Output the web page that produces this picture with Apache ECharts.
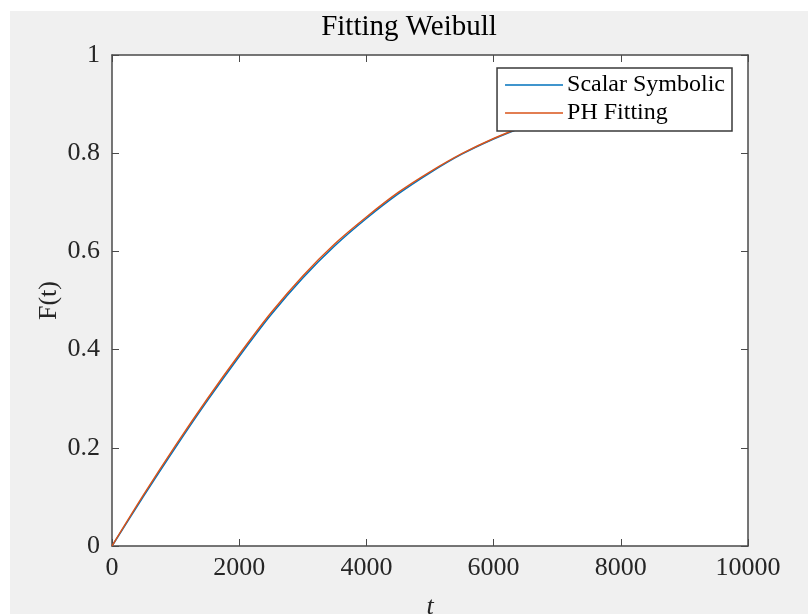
<!DOCTYPE html>
<html>
    <head>
        <meta charset="UTF-8" />
        <script src="https://cdn.jsdelivr.net/npm/echarts@6/dist/echarts.min.js"></script>
        <style>
            html, body { margin: 0; padding: 0; background: #ffffff; }
            #main { position: absolute; left: 10px; top: 11px; width: 798px; height: 603px; background: #f0f0f0; }
        </style>
    </head>

    <body>
        <div id="main"></div>
        <script type="text/javascript">
            // values
            var tValues = [0, 500, 1000, 1500, 2000, 2500, 3000, 3500, 4000, 4500, 5000, 5500, 6000, 6500, 7000];
            var scalarSymbolic = [0, 0.102, 0.201, 0.296, 0.386, 0.471, 0.546, 0.611, 0.667, 0.717, 0.760, 0.798, 0.829, 0.855, 0.878];
            var phFitting = [0, 0.105, 0.205, 0.300, 0.390, 0.475, 0.550, 0.615, 0.670, 0.720, 0.762, 0.799, 0.830, 0.856, 0.879];
            var xTicks = [0, 2000, 4000, 6000, 8000, 10000];
            var yTicks = [0, 0.2, 0.4, 0.6, 0.8, 1];

            var serif = '"Liberation Serif", "Times New Roman", serif';
            var axisColor = '#4a4a4a';

            function pairs(xs, ys) {
                return xs.map(function (x, i) { return [x, ys[i]]; });
            }

            var chartDom = document.getElementById("main");
            var myChart = echarts.init(chartDom);
            var option;

            var tickStyle = { show: true, inside: true, length: 7, lineStyle: { color: axisColor, width: 1 } };
            var lineStyle = { show: true, onZero: false, lineStyle: { color: axisColor, width: 1.5 } };

            option = {
                animation: false,
                title: {
                    text: 'Fitting Weibull',
                    left: 'center',
                    top: 0,
                    padding: [2, 0, 0, 102 - 60],
                    textStyle: { fontFamily: serif, fontSize: 29, fontWeight: 'normal', color: '#000' }
                },
                legend: {
                    orient: 'vertical',
                    right: 76,
                    top: 57,
                    icon: 'rect',
                    itemWidth: 58,
                    itemHeight: 1.5,
                    itemGap: 0,
                    padding: [3, 7, 4, 8],
                    backgroundColor: '#ffffff',
                    borderColor: '#3a3a3a',
                    borderWidth: 1.5,
                    borderRadius: 0,
                    z: 10,
                    textStyle: { fontFamily: serif, fontSize: 24, color: '#000', lineHeight: 28, padding: [0, 0, 0, -1] },
                    data: ['Scalar Symbolic', 'PH Fitting']
                },
                grid: {
                    left: 102, right: 60, top: 44, bottom: 68,
                    show: true, backgroundColor: '#ffffff', borderWidth: 0,
                    outerBoundsMode: 'none', containLabel: false
                },
                xAxis: [
                    {
                        type: 'value',
                        min: 0,
                        max: 10000,
                        interval: 2000,
                        name: 't',
                        nameLocation: 'middle',
                        nameGap: 48,
                        nameMoveOverlap: false,
                        nameTextStyle: { fontFamily: serif, fontSize: 26, fontStyle: 'italic', color: '#262626' },
                        axisLine: lineStyle,
                        axisTick: tickStyle,
                        splitLine: { show: false },
                        axisLabel: {
                            fontFamily: serif, fontSize: 26, color: '#262626', margin: 9,
                            formatter: function (v) { return xTicks.indexOf(v) >= 0 ? String(v) : ''; }
                        }
                    },
                    {
                        type: 'value',
                        position: 'top',
                        min: 0,
                        max: 10000,
                        interval: 2000,
                        axisLine: lineStyle,
                        axisTick: tickStyle,
                        splitLine: { show: false },
                        axisLabel: { show: false }
                    }
                ],
                yAxis: [
                    {
                        type: 'value',
                        min: 0,
                        max: 1,
                        interval: 0.2,
                        name: 'F(t)',
                        nameLocation: 'middle',
                        nameGap: 50,
                        nameMoveOverlap: false,
                        nameTextStyle: { fontFamily: serif, fontSize: 26, color: '#262626' },
                        axisLine: lineStyle,
                        axisTick: tickStyle,
                        splitLine: { show: false },
                        axisLabel: {
                            fontFamily: serif, fontSize: 26, color: '#262626', margin: 12,
                            formatter: function (v) {
                                var r = Math.round(v * 10) / 10;
                                return yTicks.indexOf(r) >= 0 ? String(r) : '';
                            }
                        }
                    },
                    {
                        type: 'value',
                        position: 'right',
                        min: 0,
                        max: 1,
                        interval: 0.2,
                        axisLine: lineStyle,
                        axisTick: tickStyle,
                        splitLine: { show: false },
                        axisLabel: { show: false }
                    }
                ],
                series: [
                    {
                        name: 'Scalar Symbolic',
                        type: 'line',
                        xAxisIndex: 0,
                        yAxisIndex: 0,
                        smooth: 0.3,
                        symbol: 'none',
                        color: '#0072BD',
                        lineStyle: { color: '#0072BD', width: 1.5 },
                        data: pairs(tValues, scalarSymbolic)
                    },
                    {
                        name: 'PH Fitting',
                        type: 'line',
                        xAxisIndex: 0,
                        yAxisIndex: 0,
                        smooth: 0.3,
                        symbol: 'none',
                        color: '#D95319',
                        lineStyle: { color: '#D95319', width: 1.5 },
                        data: pairs(tValues, phFitting)
                    }
                ]
            };

            option && myChart.setOption(option);
        </script>
    </body>
</html>
